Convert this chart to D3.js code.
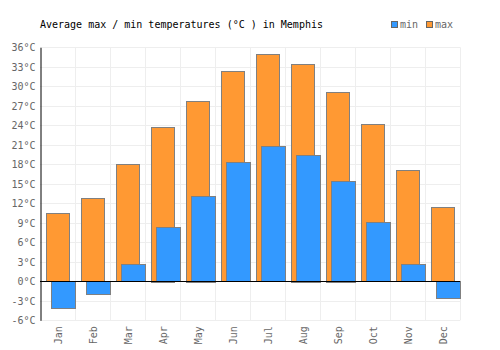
<!DOCTYPE html>
<html>
<head>
<meta charset="utf-8">
<script src="https://cdn.jsdelivr.net/npm/d3@7"></script>
<style>
  body { margin: 0; background: #fff; }
  text { font-family: "DejaVu Sans Mono", monospace; }
</style>
</head>
<body>
<div id="chart"></div>
<script>
var months = ["Jan","Feb","Mar","Apr","May","Jun","Jul","Aug","Sep","Oct","Nov","Dec"];
var maxTemps = [10.5, 12.8, 18.0, 23.8, 27.8, 32.3, 34.9, 33.5, 29.2, 24.2, 17.1, 11.4];
var minTemps = [-4.2, -2.0, 2.6, 8.3, 13.2, 18.3, 20.8, 19.5, 15.5, 9.1, 2.6, -2.6];
var yTicks = [-6, -3, 0, 3, 6, 9, 12, 15, 18, 21, 24, 27, 30, 33, 36];

function init() {
    var w = 500, h = 350;
    var pLeft = 40, pRight = 460, pTop = 47.3, pBottom = 320.3;

    var svg = d3.select("#chart").append("svg")
        .attr("width", w)
        .attr("height", h);

    var x = d3.scaleBand().domain(months).range([pLeft, pRight]);
    var y = d3.scaleLinear().domain([-6, 36]).range([pBottom, pTop]);
    var px = function(v) { return Math.round(v) + 0.5; };

    // grid
    svg.append("g").selectAll("line")
        .data(yTicks)
        .enter().append("line")
        .attr("x1", pLeft).attr("x2", pRight)
        .attr("y1", function(d) { return px(y(d)); })
        .attr("y2", function(d) { return px(y(d)); })
        .attr("stroke", "#eeeeee");

    svg.append("g").selectAll("line")
        .data(months)
        .enter().append("line")
        .attr("x1", function(d) { return px(x(d) + x.bandwidth()); })
        .attr("x2", function(d) { return px(x(d) + x.bandwidth()); })
        .attr("y1", pTop).attr("y2", pBottom)
        .attr("stroke", "#eeeeee");

    // max bars (behind)
    svg.append("g").selectAll("rect")
        .data(maxTemps)
        .enter().append("rect")
        .attr("x", function(d, i) { return px(x(months[i]) + 6); })
        .attr("width", 23)
        .attr("y", function(d) { return px(y(Math.max(0, d))); })
        .attr("height", function(d) { return Math.round(Math.abs(y(d) - y(0))); })
        .attr("fill", "#ff9933")
        .attr("stroke", "#808080");

    // min bars (front)
    svg.append("g").selectAll("rect")
        .data(minTemps)
        .enter().append("rect")
        .attr("x", function(d, i) { return px(x(months[i]) + 11); })
        .attr("width", 24)
        .attr("y", function(d) { return px(y(Math.max(0, d))); })
        .attr("height", function(d) { return Math.round(Math.abs(y(d) - y(0))); })
        .attr("fill", "#3399ff")
        .attr("stroke", "#808080");

    // zero line
    svg.append("line")
        .attr("x1", pLeft).attr("x2", pRight)
        .attr("y1", px(y(0))).attr("y2", px(y(0)))
        .attr("stroke", "#000");

    // y axis
    var yAxis = d3.axisLeft(y).tickValues(yTicks).tickSize(0).tickPadding(5)
        .tickFormat(function(d) { return d + "°C"; });
    var gy = svg.append("g")
        .attr("transform", "translate(" + (pLeft + 0.5) + ",0)")
        .call(yAxis);
    gy.select(".domain").attr("stroke", "#000");
    gy.selectAll("text")
        .attr("fill", "#666")
        .style("font-size", "10px")
        .style("font-family", "'DejaVu Sans Mono', monospace");

    // x axis labels
    var xAxis = d3.axisBottom(x).tickSize(0).tickPadding(0);
    var gx = svg.append("g")
        .attr("transform", "translate(0," + pBottom + ")")
        .call(xAxis);
    gx.select(".domain").remove();
    gx.selectAll("text")
        .attr("fill", "#666")
        .style("font-size", "10px")
        .style("font-family", "'DejaVu Sans Mono', monospace")
        .attr("text-anchor", "end")
        .attr("y", 0)
        .attr("dy", null)
        .attr("transform", "translate(4,6) rotate(-90)");

    // title
    svg.append("text")
        .attr("x", 40).attr("y", 28)
        .style("font-size", "10px")
        .attr("fill", "#000")
        .text("Average max / min temperatures (°C ) in Memphis");

    // legend
    var legend = [{name: "min", color: "#3399ff", x: 391}, {name: "max", color: "#ff9933", x: 426}];
    var lg = svg.append("g").selectAll("g").data(legend).enter().append("g");
    lg.append("rect")
        .attr("x", function(d) { return d.x + 0.5; })
        .attr("y", 21.5)
        .attr("width", 6).attr("height", 6)
        .attr("fill", function(d) { return d.color; })
        .attr("stroke", "#666");
    lg.append("text")
        .attr("x", function(d) { return d.x + 9; })
        .attr("y", 28)
        .attr("fill", "#666")
        .style("font-size", "10px")
        .text(function(d) { return d.name; });
}
window.onload = init;
</script>
</body>
</html>
